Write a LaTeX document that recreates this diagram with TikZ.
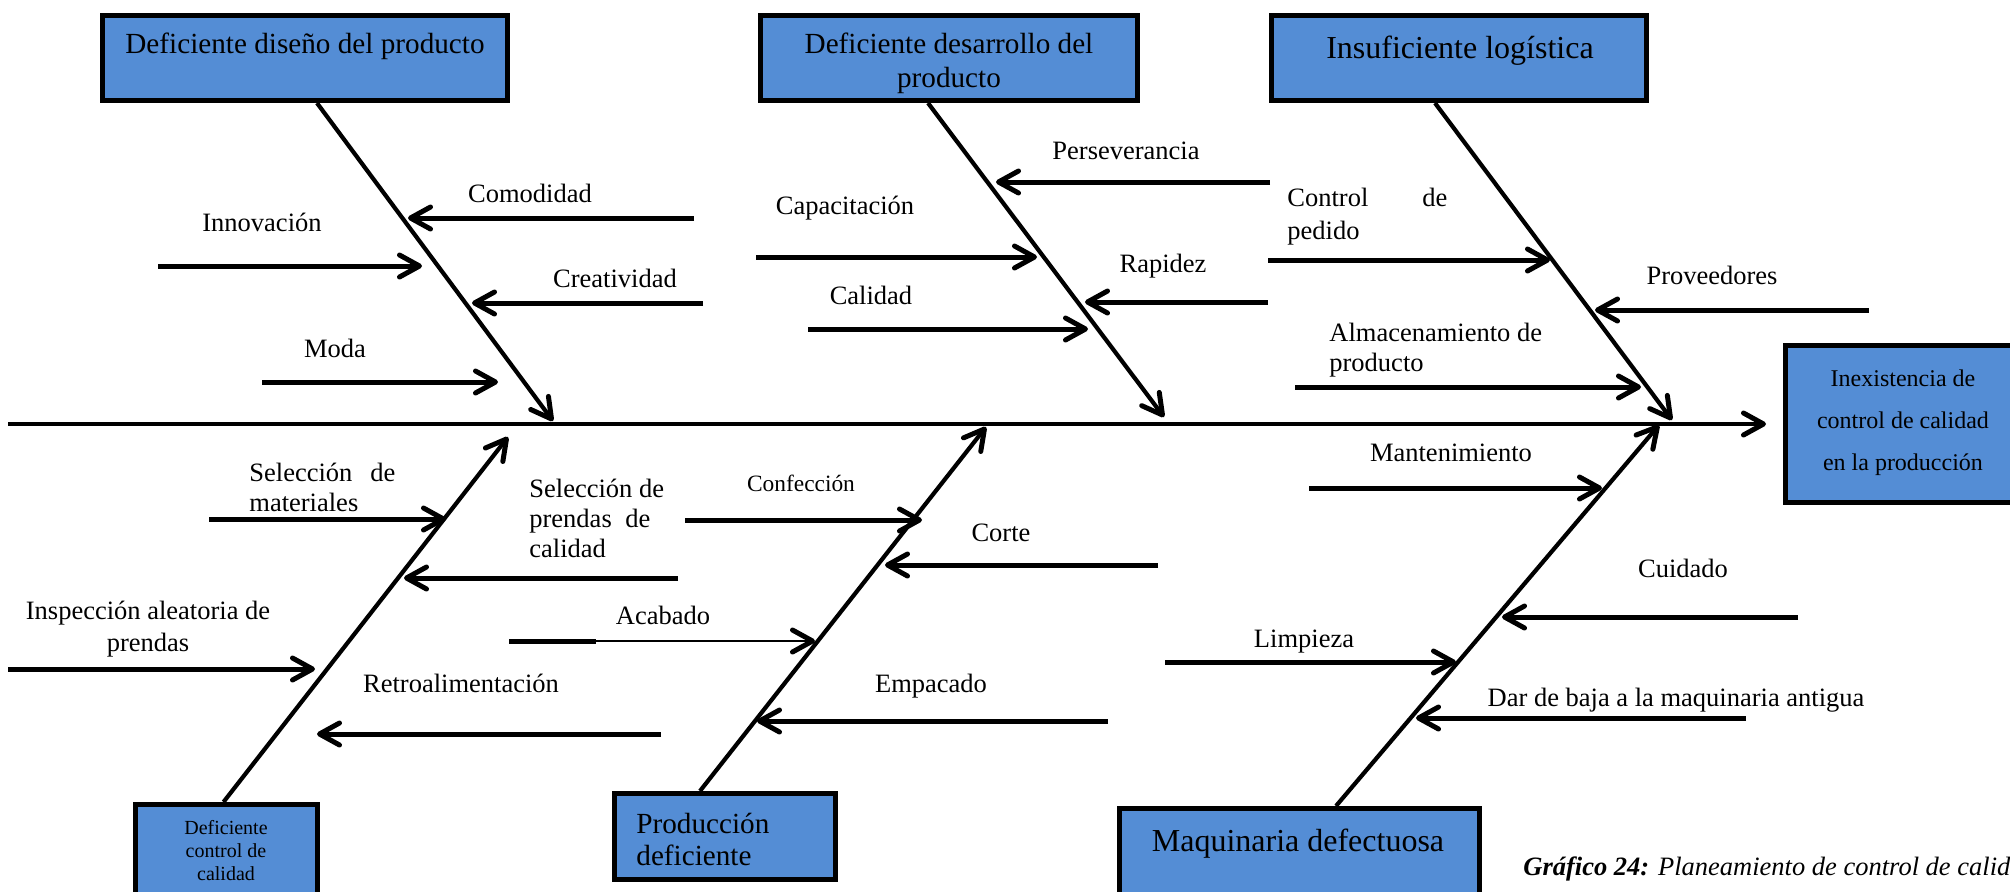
\documentclass[tikz,border=0pt]{standalone}
\usepackage{fontspec}
\setmainfont{Liberation Serif}
\usetikzlibrary{arrows.meta,calc}
\definecolor{boxblue}{RGB}{84,141,213}
\begin{document}
\begin{tikzpicture}[x=0.5pt,y=-0.5pt,
  box/.style={draw=black, line width=2.5pt, fill=boxblue, inner sep=0pt},
  tipx/.style={-{Straight Barb[length=10pt,width=11pt,round,line width=2.5pt]}},
  bone/.style={line width=2.1pt, tipx},
  spinestyle/.style={line width=2.3pt, tipx},
  cause/.style={line width=2.5pt, tipx},
  lab/.style={font=\fontsize{13.25pt}{15pt}\selectfont, inner sep=0pt},
  ttlA/.style={font=\fontsize{14.6pt}{17pt}\selectfont, inner sep=0pt},
  ttlB/.style={font=\fontsize{16pt}{19pt}\selectfont, inner sep=0pt}
]
\useasboundingbox (0,0) rectangle (2010,891);
\clip (0,0) rectangle (2010,891);

% ---------- boxes ----------
\node[box, minimum width=202.5pt, minimum height=42.5pt] (d1) at (305,58) {};
\node[box, minimum width=188.5pt, minimum height=42.5pt] (d2) at (949,58) {};
\node[box, minimum width=187.5pt, minimum height=42.5pt] (d3) at (1459,58) {};
\node[box, minimum width=131pt, minimum height=78.5pt] (eff) at (1916.5,424) {};
\node[box, minimum width=91pt, minimum height=49pt] (d4) at (226.5,853.5) {};
\node[box, minimum width=110.5pt, minimum height=43pt] (d5) at (725,836.5) {};
\node[box, minimum width=180pt, minimum height=47pt] (d6) at (1299.5,855.5) {};

% ---------- box titles ----------
\node[ttlA, anchor=base] (t1) at (305,53) {Deficiente diseño del producto};
\node[ttlA, align=center, anchor=north] (t2) at (949,33) {Deficiente desarrollo del\\producto};
\node[ttlB, anchor=base] (t3) at (1460,58) {Insuficiente logística};
\node[font=\fontsize{12pt}{21pt}\selectfont, inner sep=0pt, align=center, anchor=north] (te) at (1903,369) {Inexistencia de\\control de calidad\\en la producción};
\node[font=\fontsize{10pt}{11.5pt}\selectfont, inner sep=0pt, align=center, anchor=north] (t4) at (226,820) {Deficiente\\control de\\calidad};
\node[ttlA, font=\fontsize{14.6pt}{16pt}\selectfont, align=left, anchor=north west] (t5) at (636,813) {Producción\\deficiente};
\node[ttlB, anchor=base] (t6) at (1298,851) {Maquinaria defectuosa};

% ---------- spine and bones ----------
\coordinate (spL) at (8,424);
\coordinate (j1) at (553,421);
\coordinate (j2) at (1164,417);
\coordinate (j3) at (1672,420);
\coordinate (k1) at (508,437);
\coordinate (k2) at (986,427);
\coordinate (k3) at (1659,425);
\draw[spinestyle, shorten >=8.5pt] (spL) -- (eff.west);
\draw[bone] ($(d1.south)+(12,0)$) -- (j1);
\draw[bone] ($(d2.south)+(-21,0)$) -- (j2);
\draw[bone] ($(d3.south)+(-24,0)$) -- (j3);
\draw[bone] ($(d4.north)+(-3,0)$) -- (k1);
\draw[bone] ($(d5.north)+(-25,0)$) -- (k2);
\draw[bone] ($(d6.north)+(36.5,0)$) -- (k3);

% ---------- causes: Deficiente diseño del producto ----------
\draw[cause] (694,218) -- (408,218);
\node[lab, anchor=base] (l1) at (530,202) {Comodidad};
\draw[cause] (158,266) -- (422,266);
\node[lab, anchor=base] (l2) at (262,231) {Innovación};
\draw[cause] (703,303) -- (472,303);
\node[lab, anchor=base] (l3) at (615,287) {Creatividad};
\draw[cause] (262,382) -- (498,382);
\node[lab, anchor=base] (l4) at (335,357) {Moda};

% ---------- causes: Deficiente desarrollo del producto ----------
\draw[cause] (1270,182) -- (996,182);
\node[lab, anchor=base] (l5) at (1126,159) {Perseverancia};
\draw[cause] (756,257) -- (1037,257);
\node[lab, anchor=base] (l6) at (845,214) {Capacitación};
\draw[cause] (1268,302) -- (1085,302);
\node[lab, anchor=base] (l7) at (1163,272) {Rapidez};
\draw[cause] (808,329) -- (1088,329);
\node[lab, anchor=base] (l8) at (871,304) {Calidad};

% ---------- causes: Insuficiente logística ----------
\draw[cause] (1268,260) -- (1550,260);
\node[lab, font=\fontsize{13.25pt}{16.5pt}\selectfont, align=left, anchor=north west] (l9) at (1287,188) {\makebox[80pt][s]{Control de}\\pedido};
\draw[cause] (1869,310) -- (1595,310);
\node[lab, anchor=base] (l10) at (1712,284) {Proveedores};
\draw[cause] (1295,387) -- (1641,387);
\node[lab, align=left, anchor=north west] (l11) at (1329,323) {Almacenamiento de\\producto};

% ---------- causes: Deficiente control de calidad ----------
\draw[cause] (209,519) -- (446,519);
\node[lab, align=left, anchor=north west] (l12) at (249,463) {\makebox[73pt][s]{Selección de}\\materiales};
\draw[cause] (678,578) -- (404,578);
\node[lab, align=left, anchor=north west] (l13) at (529,479) {Selección de\\\makebox[60.5pt][s]{prendas de}\\calidad};
\draw[cause] (8,669) -- (315,669);
\node[lab, font=\fontsize{13.25pt}{16pt}\selectfont, align=center, anchor=north] (l14) at (148,601) {Inspección aleatoria de\\prendas};
\draw[cause] (661,734) -- (317,734);
\node[lab, anchor=base] (l15) at (461,692) {Retroalimentación};

% ---------- causes: Producción deficiente ----------
\draw[cause] (685,520) -- (922,520);
\node[lab, font=\fontsize{11.7pt}{14pt}\selectfont, anchor=base] (l16) at (801,491) {Confección};
\draw[cause] (1158,565) -- (885,565);
\node[lab, anchor=base] (l17) at (1001,541) {Corte};
\draw[line width=2.5pt] (509,641) -- (596,641);
\draw[line width=1pt, tipx] (595,641) -- (815,641);
\node[lab, anchor=base] (l18) at (663,624) {Acabado};
\draw[cause] (1108,721) -- (757,721);
\node[lab, anchor=base] (l19) at (931,692) {Empacado};

% ---------- causes: Maquinaria defectuosa ----------
\draw[cause] (1309,488) -- (1602,488);
\node[lab, anchor=base] (l20) at (1451,461) {Mantenimiento};
\draw[cause] (1798,617) -- (1502,617);
\node[lab, anchor=base] (l21) at (1683,577) {Cuidado};
\draw[cause] (1165,662) -- (1456,662);
\node[lab, anchor=base] (l22) at (1304,647) {Limpieza};
\draw[cause] (1746,718) -- (1416,718);
\node[lab, anchor=base] (l23) at (1676,706) {Dar de baja a la maquinaria antigua};

% ---------- caption (cut off at the right edge, as in the reference) ----------
\node[lab, anchor=base west] (cap) at (1523,875) {\textbf{\textit{Gráfico 24:}} \textit{Planeamiento de control de calidad}};
\end{tikzpicture}
\end{document}
